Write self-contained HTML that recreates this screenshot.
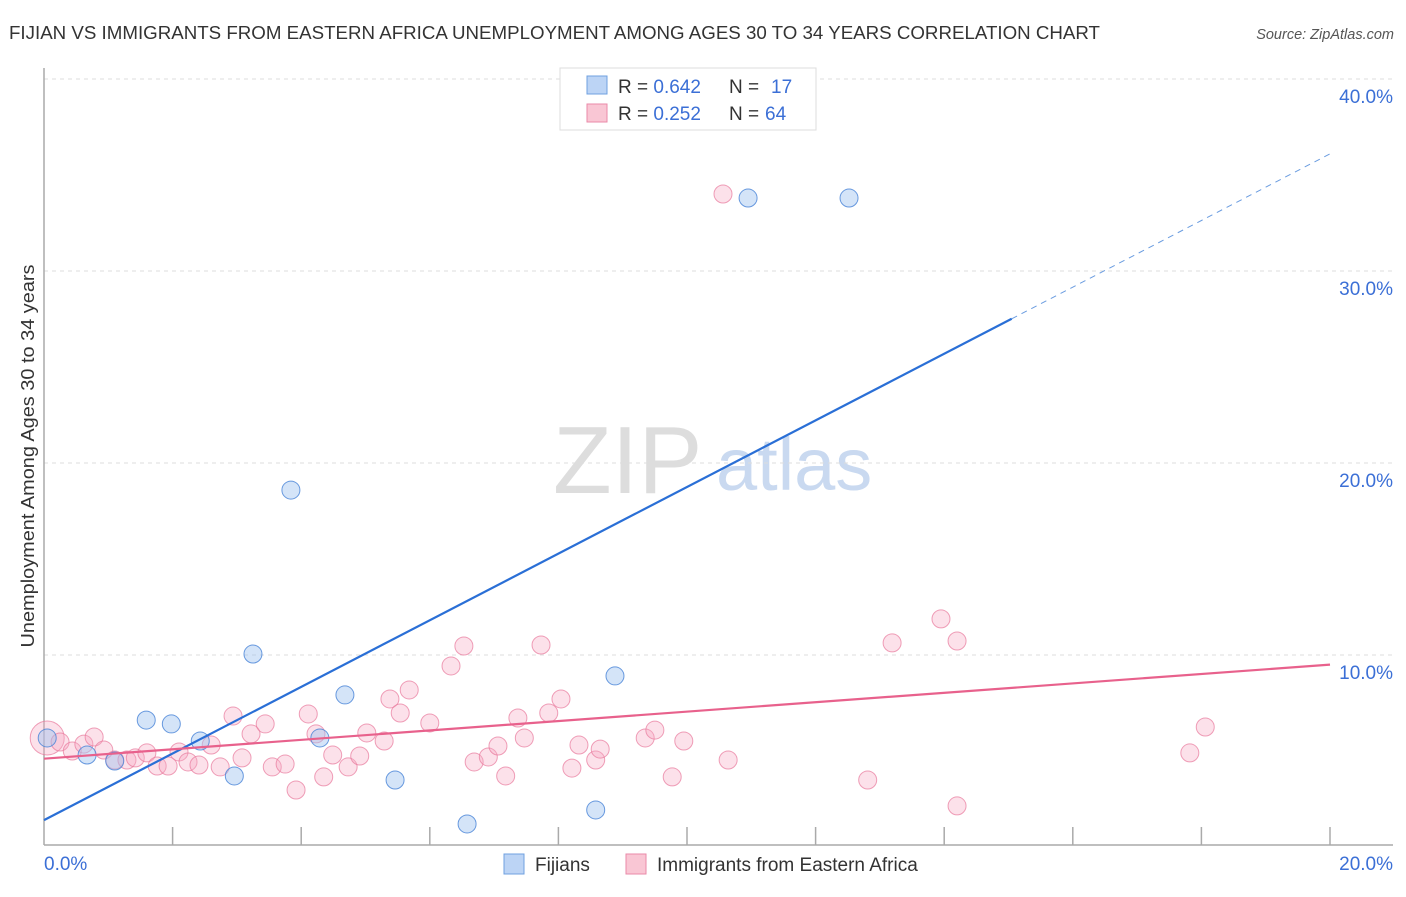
<!DOCTYPE html>
<html><head><meta charset="utf-8"><style>
body{margin:0;background:#fff;font-family:"Liberation Sans",sans-serif;}
svg text{font-family:"Liberation Sans",sans-serif;}
</style></head><body>
<svg id="chart" width="1406" height="892">
<text x="9" y="39" font-size="18" fill="#333" textLength="1091" lengthAdjust="spacingAndGlyphs">FIJIAN VS IMMIGRANTS FROM EASTERN AFRICA UNEMPLOYMENT AMONG AGES 30 TO 34 YEARS CORRELATION CHART</text>
<text x="1394" y="39" font-size="14.5" fill="#555" font-style="italic" text-anchor="end">Source: ZipAtlas.com</text>
<text x="553" y="493" font-size="96" fill="#ddd" font-family="Liberation Serif">ZIP</text>
<text x="716" y="490" font-size="74" fill="#c9d9f0">atlas</text>
<text transform="translate(34,456) rotate(-90)" font-size="18" fill="#333" text-anchor="middle" textLength="383" lengthAdjust="spacingAndGlyphs">Unemployment Among Ages 30 to 34 years</text>
<g id="grid"></g><g id="axes"></g><g id="marks"></g>
<g>
<rect x="560" y="68" width="256" height="62" fill="#fff" stroke="#ddd"/>
<rect x="587" y="76" width="20" height="18" fill="#bcd4f5" stroke="#6fa0e0"/>
<text x="618" y="93" font-size="19" fill="#333">R = <tspan fill="#3b6fd6">0.642</tspan></text>
<text x="729" y="93" font-size="19" fill="#333">N = <tspan x="771" fill="#3b6fd6">17</tspan></text>
<rect x="587" y="104" width="20" height="18" fill="#f9c6d4" stroke="#ea8aa8"/>
<text x="618" y="120" font-size="19" fill="#333">R = <tspan fill="#3b6fd6">0.252</tspan></text>
<text x="729" y="120" font-size="19" fill="#333">N = <tspan x="765" fill="#3b6fd6">64</tspan></text>
</g>
<g>
<rect x="504" y="854" width="20" height="20" fill="#bcd4f5" stroke="#6fa0e0"/>
<text x="535" y="871" font-size="19" fill="#333">Fijians</text>
<rect x="626" y="854" width="20" height="20" fill="#f9c6d4" stroke="#ea8aa8"/>
<text x="657" y="871" font-size="19" fill="#333">Immigrants from Eastern Africa</text>
</g>
</svg>
<script>
const yTicks=[10,20,30,40];
const yTickLabels=["10.0%","20.0%","30.0%","40.0%"];
const xTickValues=[2,4,6,8,10,12,14,16,18,20];
const xEndLabels=["0.0%","20.0%"];
const fijiX=[0.05,0.67,1.10,1.59,1.98,2.43,2.96,3.25,3.84,4.29,4.68,5.46,6.58,8.58,8.88,10.95,12.52];
const fijiY=[5.68,4.79,4.48,6.61,6.41,5.52,3.70,10.05,18.59,5.68,7.92,3.49,1.20,1.93,8.91,33.80,33.80];
const immX=[0.05,0.25,0.44,0.62,0.78,0.93,1.10,1.29,1.42,1.60,1.76,1.93,2.10,2.24,2.41,2.60,2.74,2.94,3.08,3.22,3.44,3.55,3.75,3.92,4.11,4.23,4.35,4.49,4.73,4.91,5.02,5.29,5.38,5.54,5.68,6.00,6.33,6.53,6.69,6.91,7.06,7.18,7.37,7.47,7.73,7.85,8.04,8.21,8.32,8.58,8.65,9.35,9.50,9.77,9.95,10.56,10.64,12.81,13.19,13.95,14.20,14.20,17.82,18.06];
const immY=[5.68,5.47,5.0,5.36,5.73,5.05,4.53,4.53,4.64,4.90,4.22,4.22,4.95,4.43,4.27,5.31,4.17,6.82,4.64,5.89,6.41,4.17,4.32,2.97,6.93,5.89,3.65,4.79,4.17,4.74,5.94,5.52,7.71,6.98,8.18,6.46,9.43,10.47,4.43,4.69,5.26,3.70,6.72,5.68,10.52,6.98,7.71,4.11,5.31,4.53,5.10,5.68,6.09,3.65,5.52,34.01,4.53,3.49,10.63,11.88,10.73,2.14,4.90,6.25];
const fijiTrend=[1.4,36.1];
const immTrend=[4.6,9.5];
const fijiSolidEnd=15.05;

const NS="http://www.w3.org/2000/svg";
const X=v=>44+v/20*1286, Y=v=>847-v*19.2;
function mk(tag,attrs,parent){const e=document.createElementNS(NS,tag);for(const k in attrs)e.setAttribute(k,attrs[k]);parent.appendChild(e);return e;}
const grid=document.getElementById('grid'),axes=document.getElementById('axes'),marks=document.getElementById('marks');
yTicks.forEach((t,i)=>{
 const l=mk('line',{x1:44,x2:1393,y1:Y(t),y2:Y(t),stroke:'#ddd','stroke-dasharray':'4,4'},grid);
 
 
 const tx=mk('text',{x:1393,y:Y(t)+24,'font-size':19,fill:'#3b6fd6','text-anchor':'end'},grid);
 tx.textContent=yTickLabels[i];
 
 
});
const la=mk('line',{x1:44,x2:44,y1:68,y2:845,stroke:'#aaa','stroke-width':1.5},axes);


const ba=mk('line',{x1:44,x2:1393,y1:845,y2:845,stroke:'#aaa','stroke-width':1.5},axes);


xTickValues.forEach(v=>{
 const t=mk('line',{x1:X(v),x2:X(v),y1:827,y2:845,stroke:'#aaa','stroke-width':1.5},axes);
 
 
});
[[0,'start',44],[20,'end',1393]].forEach((a,i)=>{
 const tx=mk('text',{x:a[2],y:870,'font-size':19,fill:'#3b6fd6','text-anchor':a[1]},axes);
 tx.textContent=xEndLabels[i];
 
 
});
immX.forEach((x,i)=>{
 const c=mk('circle',{cx:X(x),cy:Y(immY[i]),r:i===0?17:9,fill:'rgba(247,170,195,0.35)',stroke:'rgba(232,120,155,0.7)','stroke-width':1},marks);
 
 
});
fijiX.forEach((x,i)=>{
 const c=mk('circle',{cx:X(x),cy:Y(fijiY[i]),r:9,fill:'rgba(160,195,240,0.45)',stroke:'rgba(70,130,215,0.8)','stroke-width':1},marks);
 
 
});
const fy=v=>fijiTrend[0]+(fijiTrend[1]-fijiTrend[0])*v/20;
const f1=mk('line',{x1:X(0),y1:Y(fijiTrend[0]),x2:X(fijiSolidEnd),y2:Y(fy(fijiSolidEnd)),stroke:'#2a6fd6','stroke-width':2.2},marks);


const f2=mk('line',{x1:X(fijiSolidEnd),y1:Y(fy(fijiSolidEnd)),x2:X(20),y2:Y(fijiTrend[1]),stroke:'#6a9ce0','stroke-width':1,'stroke-dasharray':'6,5'},marks);


const p1=mk('line',{x1:X(0),y1:Y(immTrend[0]),x2:X(20),y2:Y(immTrend[1]),stroke:'#e8618c','stroke-width':2.2},marks);


</script>
</body></html>
